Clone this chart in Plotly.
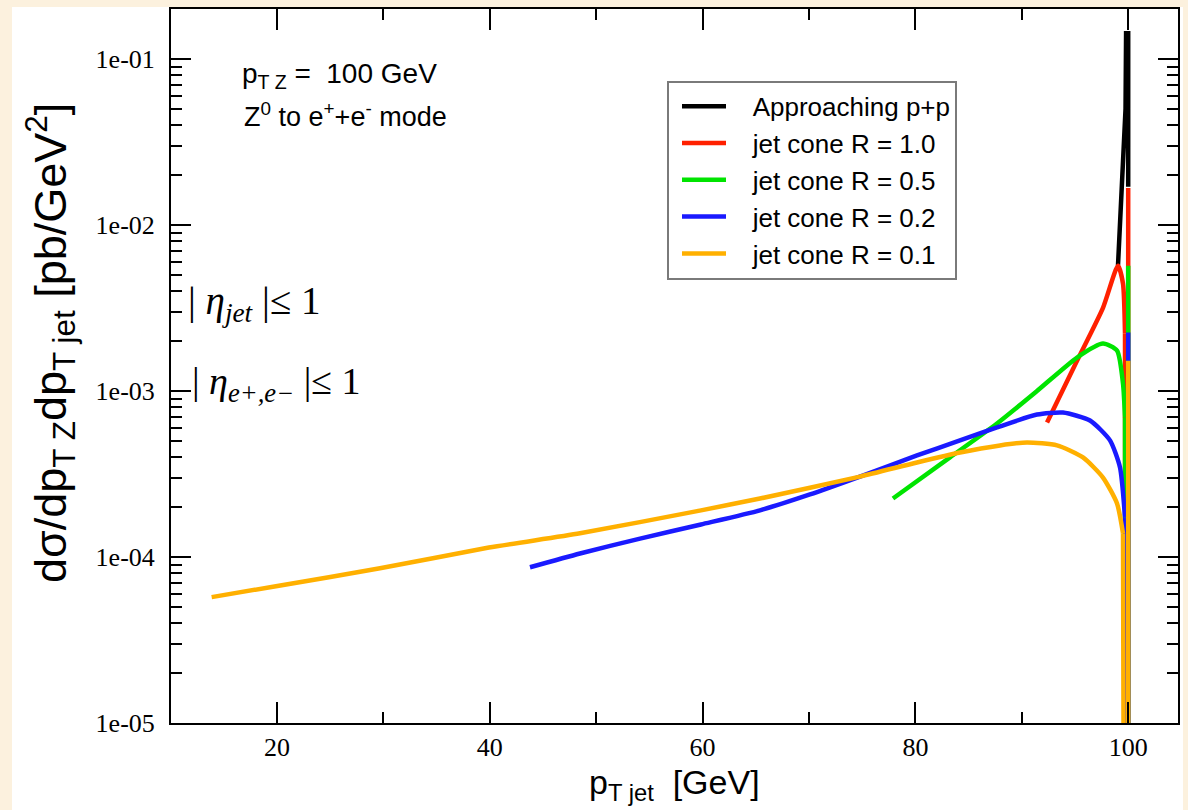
import math
import plotly.graph_objects as go

# ---------------- data ----------------
# "Approaching p+p"
pp_x = [99.04, 99.75, 99.8, 100.0, 100.0]
pp_y = [5.7e-3, 5.0e-2, 1.43e-1, 1.43e-1, 1.7e-2]

# jet cone R = 1.0 : smooth part and the steep end at pT jet -> 100
r10_x = [92.37, 95.19, 97.63, 99.04, 99.51, 99.70]
r10_y = [6.46e-4, 1.52e-3, 3.17e-3, 5.68e-3, 4.43e-3, 2.21e-3]
r10_end_x = [99.70, 99.73, 100.0, 100.0]
r10_end_y = [2.21e-3, 1e-6, 1e-6, 1.67e-2]

# jet cone R = 0.5
r05_x = [77.89, 83.25, 87.67, 91.43, 95.19, 97.63, 98.95, 99.51, 99.70]
r05_y = [2.25e-4, 3.98e-4, 6.37e-4, 1.00e-3, 1.59e-3, 1.93e-3, 1.75e-3, 1.11e-3, 6.92e-4]
r05_end_x = [99.70, 99.73, 100.0, 100.0]
r05_end_y = [6.92e-4, 1e-6, 1e-6, 5.68e-3]

# jet cone R = 0.2
r02_x = [43.78, 48.48, 54.12, 59.85, 65.39, 70.09, 74.79, 80.15, 84.19, 87.67, 91.43, 93.87,
         96.41, 98.29, 99.23, 99.70]
r02_y = [8.67e-5, 1.05e-4, 1.29e-4, 1.57e-4, 1.91e-4, 2.38e-4, 3.05e-4, 4.09e-4, 5.04e-4, 6.03e-4,
         7.21e-4, 7.41e-4, 6.64e-4, 5.04e-4, 3.46e-4, 1.73e-4]
r02_end_x = [99.70, 99.73, 100.0, 100.0]
r02_end_y = [1.73e-4, 1e-6, 1e-6, 2.25e-3]

# jet cone R = 0.1
r01_x = [13.86, 19.9, 29.68, 39.92, 48.48, 59.85, 65.39, 74.79, 80.15, 84.19, 87.95, 90.49,
         93.31, 95.75, 97.63, 98.95, 99.51]
r01_y = [5.73e-5, 6.67e-5, 8.55e-5, 1.14e-4, 1.39e-4, 1.91e-4, 2.25e-4, 3.05e-4, 3.71e-4, 4.26e-4,
         4.70e-4, 4.90e-4, 4.70e-4, 3.98e-4, 3.01e-4, 2.10e-4, 1.39e-4]
r01_end_x = [99.51, 99.57, 99.6, 100.0, 100.0]
r01_end_y = [1.39e-4, 5e-5, 1e-6, 1e-6, 1.52e-3]

series_names = ["Approaching p+p", "jet cone R = 1.0", "jet cone R = 0.5",
                "jet cone R = 0.2", "jet cone R = 0.1"]
series_colors = ["#000000", "#ff2000", "#00e400", "#1a1aff", "#ffb000"]

x_tick_vals = [20, 40, 60, 80, 100]
x_minor_vals = [30, 50, 70, 90]
y_tick_vals = [1e-5, 1e-4, 1e-3, 1e-2, 1e-1]
y_tick_text = ["1e-05", "1e-04", "1e-03", "1e-02", "1e-01"]
y_minor_vals = [k * 10.0 ** e for e in range(-5, 0) for k in range(2, 10)]

# ---------------- figure ----------------
fig = go.Figure()
pad = "\u00a0\u00a0\u00a0"
curves = [(pp_x, pp_y, None, None), (r10_x, r10_y, r10_end_x, r10_end_y),
          (r05_x, r05_y, r05_end_x, r05_end_y), (r02_x, r02_y, r02_end_x, r02_end_y),
          (r01_x, r01_y, r01_end_x, r01_end_y)]
for name, col, (xs, ys, ex, ey) in zip(series_names, series_colors, curves):
    if ex is None:
        line = dict(color=col, width=4.5, shape="linear")
    else:
        line = dict(color=col, width=4.5, shape="spline", smoothing=0.6)
    fig.add_trace(go.Scatter(x=xs, y=ys, mode="lines", name=pad + name,
                             legendgroup=name, line=line))
    if ex is not None:
        fig.add_trace(go.Scatter(x=ex, y=ey, mode="lines", name=pad + name,
                                 legendgroup=name, showlegend=False,
                                 line=dict(color=col, width=4.5, shape="linear")))

L, R, T, B = 171, 10, 7, 87
W, H = 1188, 810
pw, ph = W - L - R, H - T - B

def px(xp):
    return (xp - L) / pw

def py(yp):
    return 1 - (yp - T) / ph

fig.update_layout(
    width=W, height=H,
    margin=dict(l=L, r=R, t=T, b=B, pad=0),
    paper_bgcolor="#fcf1de",
    plot_bgcolor="white",
    showlegend=True,
    legend=dict(
        x=px(667), y=py(79), xanchor="left", yanchor="top",
        bgcolor="white", bordercolor="#7a7a7a", borderwidth=2,
        font=dict(family="Liberation Sans", size=26, color="black"),
        itemwidth=44, indentation=8, traceorder="grouped", tracegroupgap=0,
    ),
    xaxis=dict(
        range=[10.04, 104.68], tickmode="array", tickvals=x_tick_vals,
        ticks="inside", ticklen=21, tickwidth=1.5, tickcolor="black",
        showline=True, linecolor="black", linewidth=2, mirror="ticks",
        showgrid=False, zeroline=False, ticklabelstandoff=0,
        tickfont=dict(family="Liberation Serif", size=26, color="black"),
        minor=dict(tickmode="array", tickvals=x_minor_vals, ticks="inside",
                   ticklen=11, tickwidth=1.5, tickcolor="black", showgrid=False),
    ),
    yaxis=dict(
        type="log", range=[-5, math.log10(0.2)], tickmode="array",
        tickvals=y_tick_vals, ticktext=y_tick_text,
        ticks="inside", ticklen=20, tickwidth=1.5, tickcolor="black",
        showline=True, linecolor="black", linewidth=2, mirror="ticks",
        showgrid=False, zeroline=False, ticklabelstandoff=9,
        tickfont=dict(family="Liberation Serif", size=26, color="black"),
        minor=dict(tickmode="array", tickvals=y_minor_vals, ticks="inside",
                   ticklen=11, tickwidth=1.5, tickcolor="black", showgrid=False),
    ),
    shapes=[dict(type="rect", xref="paper", yref="paper", layer="below",
                 x0=px(12), x1=px(1183), y0=py(812), y1=py(5),
                 fillcolor="white", line=dict(width=0))],
)

sans = "Liberation Sans"
serif = "Liberation Serif"
ann = [
    dict(text="p<sub>T jet</sub>  [GeV]", x=0.5, y=py(785), xanchor="center", yanchor="middle",
         font=dict(family=sans, size=34)),
    dict(text="dσ/dp<sub>T Z</sub>dp<sub>T jet</sub> [pb/GeV<sup>2</sup>]", x=px(50), y=py(342),
         xanchor="center", yanchor="middle", textangle=-90, font=dict(family=sans, size=45)),
    dict(text="p<sub>T Z</sub> =  100 GeV", x=px(240), y=py(74), xanchor="left", yanchor="middle",
         font=dict(family=sans, size=28)),
    dict(text="Z<sup>0</sup> to e<sup>+</sup>+e<sup>-</sup> mode", x=px(242), y=py(113),
         xanchor="left", yanchor="middle", font=dict(family=sans, size=27)),
    dict(text="| <i>η</i><sub><i>jet</i></sub> |≤ 1", x=px(186), y=py(302), xanchor="left",
         yanchor="middle", font=dict(family=serif, size=39)),
    dict(text="| <i>η</i><sub><i>e+,e−</i></sub> |≤ 1", x=px(190), y=py(383), xanchor="left",
         yanchor="middle", font=dict(family=serif, size=38)),
]
for a in ann:
    a.update(xref="paper", yref="paper", showarrow=False)
    a["font"]["color"] = "black"
fig.update_layout(annotations=ann)

fig.write_html("out.html")
